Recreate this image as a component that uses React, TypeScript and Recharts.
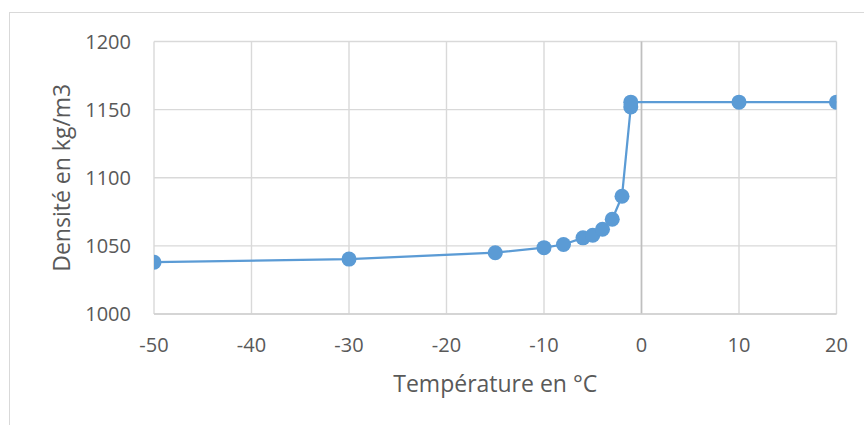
import React from "react";
import {
  ScatterChart,
  Scatter,
  XAxis,
  YAxis,
  CartesianGrid,
  ReferenceLine,
} from "recharts";

// température (°C) et densité (kg/m3)
const temperatures = [-50, -30, -15, -10, -8, -6, -5, -4, -3, -2, -1.1, -1.1, 10, 20];
const densities = [1038, 1040.3, 1045, 1048.7, 1051, 1055.9, 1057.8, 1062.2, 1069.5, 1086.4, 1152, 1155.5, 1155.5, 1155.5];

const xTicks = [-50, -40, -30, -20, -10, 0, 10, 20];
const yTicks = [1000, 1050, 1100, 1150, 1200];

const xTitle = "Température en °C";
const yTitle = "Densité en kg/m3";

const FONT = "'Open Sans', sans-serif";
const TEXT = "#595959";
const BLUE = "#5B9BD5";

const points = temperatures.map((t, i) => ({ t, d: densities[i] }));

function Dot(props: any) {
  const { cx, cy } = props;
  if (cx == null || cy == null) return null;
  return <circle cx={cx} cy={cy} r={7.5} fill={BLUE} />;
}

export default function App() {
  return (
    <div
      style={{
        position: "absolute",
        left: 0,
        top: 0,
        width: 864,
        height: 425,
        overflow: "hidden",
        background: "#fff",
        fontFamily: FONT,
      }}
    >
      <div
        style={{
          position: "absolute",
          left: 9,
          top: 12,
          width: 900,
          height: 460,
          border: "1px solid #D9D9D9",
        }}
      />
      <div style={{ position: "absolute", left: 0, top: 0 }}>
        <ScatterChart
          width={864}
          height={425}
          margin={{ top: 41.5, right: 27.5, left: 0, bottom: 0 }}
        >
          <CartesianGrid stroke="#D9D9D9" strokeWidth={1.4} />
          <XAxis
            type="number"
            dataKey="t"
            domain={[-50, 20]}
            ticks={xTicks}
            height={111}
            tickSize={0}
            tickMargin={24}
            axisLine={{ stroke: "#D0D0D0", strokeWidth: 1.5 }}
            tickLine={false}
            tick={{ fill: TEXT, fontSize: 20, fontFamily: FONT }}
            allowDataOverflow
            label={{
              content: ({ viewBox }: any) => (
                <text
                  x={viewBox.x + viewBox.width / 2}
                  y={391.5}
                  textAnchor="middle"
                  fill={TEXT}
                  fontSize={23}
                  fontFamily={FONT}
                >
                  {xTitle}
                </text>
              ),
            }}
          />
          <YAxis
            type="number"
            dataKey="d"
            domain={[1000, 1200]}
            ticks={yTicks}
            width={154}
            tickSize={0}
            tickMargin={23}
            axisLine={false}
            tickLine={false}
            tick={{ fill: TEXT, fontSize: 20, fontFamily: FONT }}
            allowDataOverflow
            label={{
              content: ({ viewBox }: any) => (
                <text
                  transform={`translate(62, ${viewBox.y + viewBox.height / 2}) rotate(-90)`}
                  textAnchor="middle"
                  dy="0.35em"
                  fill={TEXT}
                  fontSize={23}
                  fontFamily={FONT}
                >
                  {yTitle}
                </text>
              ),
            }}
          />
          <ReferenceLine x={0} stroke="#BFBFBF" strokeWidth={1.6} />
          <Scatter
            data={points}
            line={{ stroke: BLUE, strokeWidth: 2.25 }}
            shape={<Dot />}
            isAnimationActive={false}
          />
        </ScatterChart>
      </div>
    </div>
  );
}
